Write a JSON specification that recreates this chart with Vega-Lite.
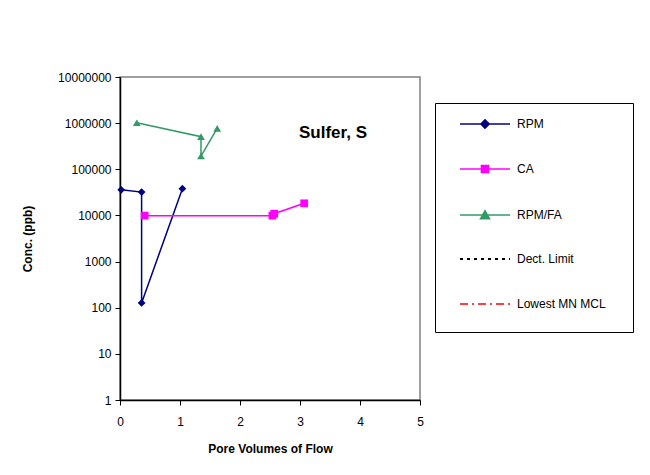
{
  "$schema": "https://vega.github.io/schema/vega-lite/v6.json",
  "autosize": {"type": "none"},
  "width": 300,
  "height": 323,
  "padding": {"left": 120, "top": 77, "right": 230, "bottom": 75},
  "background": "white",
  "config": {
    "font": "Liberation Sans",
    "view": {"stroke": "#808080", "strokeWidth": 1.5},
    "axis": {"grid": false, "domainColor": "black", "tickColor": "black", "labelColor": "black", "titleColor": "black", "labelFontSize": 12, "titleFontSize": 12, "titleFontWeight": "bold", "tickSize": 5, "domainWidth": 1.5, "labelFont": "Liberation Sans", "titleFont": "Liberation Sans", "labelFlush": false}
  },
  "datasets": {
    "pts": [
      {"series": "RPM", "order": 1, "pv": 0.02, "conc": 36000},
      {"series": "RPM", "order": 2, "pv": 0.36, "conc": 32000},
      {"series": "RPM", "order": 3, "pv": 0.36, "conc": 127},
      {"series": "RPM", "order": 4, "pv": 1.04, "conc": 38000},
      {"series": "CA", "order": 1, "pv": 0.41, "conc": 9900},
      {"series": "CA", "order": 2, "pv": 2.54, "conc": 9900},
      {"series": "CA", "order": 3, "pv": 2.57, "conc": 10900},
      {"series": "CA", "order": 4, "pv": 3.07, "conc": 18300},
      {"series": "RPM/FA", "order": 1, "pv": 0.28, "conc": 1020000},
      {"series": "RPM/FA", "order": 2, "pv": 1.35, "conc": 509000},
      {"series": "RPM/FA", "order": 3, "pv": 1.35, "conc": 194000},
      {"series": "RPM/FA", "order": 4, "pv": 1.62, "conc": 774000}
    ],
    "lbl": [{"pv": 3.55, "conc": 612000, "label": "Sulfer, S"}]
  },
  "layer": [
    {
      "data": {"name": "pts"},
      "mark": {"type": "line", "strokeWidth": 1.5},
      "encoding": {
        "x": {"field": "pv", "type": "quantitative", "scale": {"domain": [0, 5], "nice": false, "zero": false}, "axis": {"values": [0, 1, 2, 3, 4, 5], "format": "d", "title": "Pore Volumes of Flow", "titlePadding": 16, "labelPadding": 11}},
        "y": {"field": "conc", "type": "quantitative", "scale": {"type": "log", "domain": [1, 10000000], "nice": false}, "axis": {"values": [1, 10, 100, 1000, 10000, 100000, 1000000, 10000000], "format": "d", "title": "Conc. (ppb)", "titlePadding": 23, "labelPadding": 4}},
        "color": {
          "field": "series", "type": "nominal",
          "scale": {"domain": ["RPM", "CA", "RPM/FA", "Dect. Limit", "Lowest MN MCL"], "range": ["#000080", "#FF00FF", "#339966", "#000000", "#FF0000"]},
          "legend": {
            "title": null, "orient": "none", "legendX": 315, "legendY": 26,
            "strokeColor": "black", "fillColor": "white", "padding": 15,
            "symbolSize": 196, "labelOffset": 55, "labelFontSize": 12, "labelColor": "black", "labelFont": "Liberation Sans",
            "rowPadding": 25, "labelLimit": 200,
            "encode": {
              "symbols": {
                "update": {
                  "shape": {"signal": "datum.value === 'RPM' ? 'M0.571,0L7.714,0M4.143,-0.6L4.743,0L4.143,0.6L3.543,0ZM22.57,1.3' : datum.value === 'CA' ? 'M0.571,0L7.714,0M3.63,-0.51L4.65,-0.51L4.65,0.51L3.63,0.51ZM22.57,1.3' : datum.value === 'RPM/FA' ? 'M0.571,0L7.714,0M4.143,-0.62L4.8,0.55L3.486,0.55ZM22.57,1.3' : 'M0.571,0L7.714,0M22.57,1.3'"},
                  "stroke": {"signal": "scale('color', datum.value)"},
                  "fill": {"signal": "scale('color', datum.value)"},
                  "strokeWidth": {"signal": "datum.value === 'Dect. Limit' ? 2 : 1.5"},
                  "strokeDash": {"signal": "datum.value === 'Dect. Limit' ? [3, 4] : datum.value === 'Lowest MN MCL' ? [8, 4, 2, 4] : [1, 0]"},
                  "opacity": {"value": 1},
                  "fillOpacity": {"value": 1}
                }
              }
            }
          }
        },
        "order": {"field": "order", "type": "quantitative"}
      }
    },
    {
      "data": {"name": "pts"},
      "mark": {"type": "point", "filled": true, "opacity": 1, "size": 60},
      "encoding": {
        "x": {"field": "pv", "type": "quantitative"},
        "y": {"field": "conc", "type": "quantitative"},
        "color": {"field": "series", "type": "nominal"},
        "shape": {"field": "series", "type": "nominal", "scale": {"domain": ["RPM", "CA", "RPM/FA"], "range": ["diamond", "square", "triangle-up"]}, "legend": null}
      }
    },
    {
      "data": {"name": "lbl"},
      "mark": {"type": "text", "font": "Liberation Sans", "fontSize": 17, "fontWeight": "bold", "color": "black", "align": "center", "baseline": "middle"},
      "encoding": {
        "x": {"field": "pv", "type": "quantitative"},
        "y": {"field": "conc", "type": "quantitative"},
        "text": {"field": "label"}
      }
    }
  ]
}
